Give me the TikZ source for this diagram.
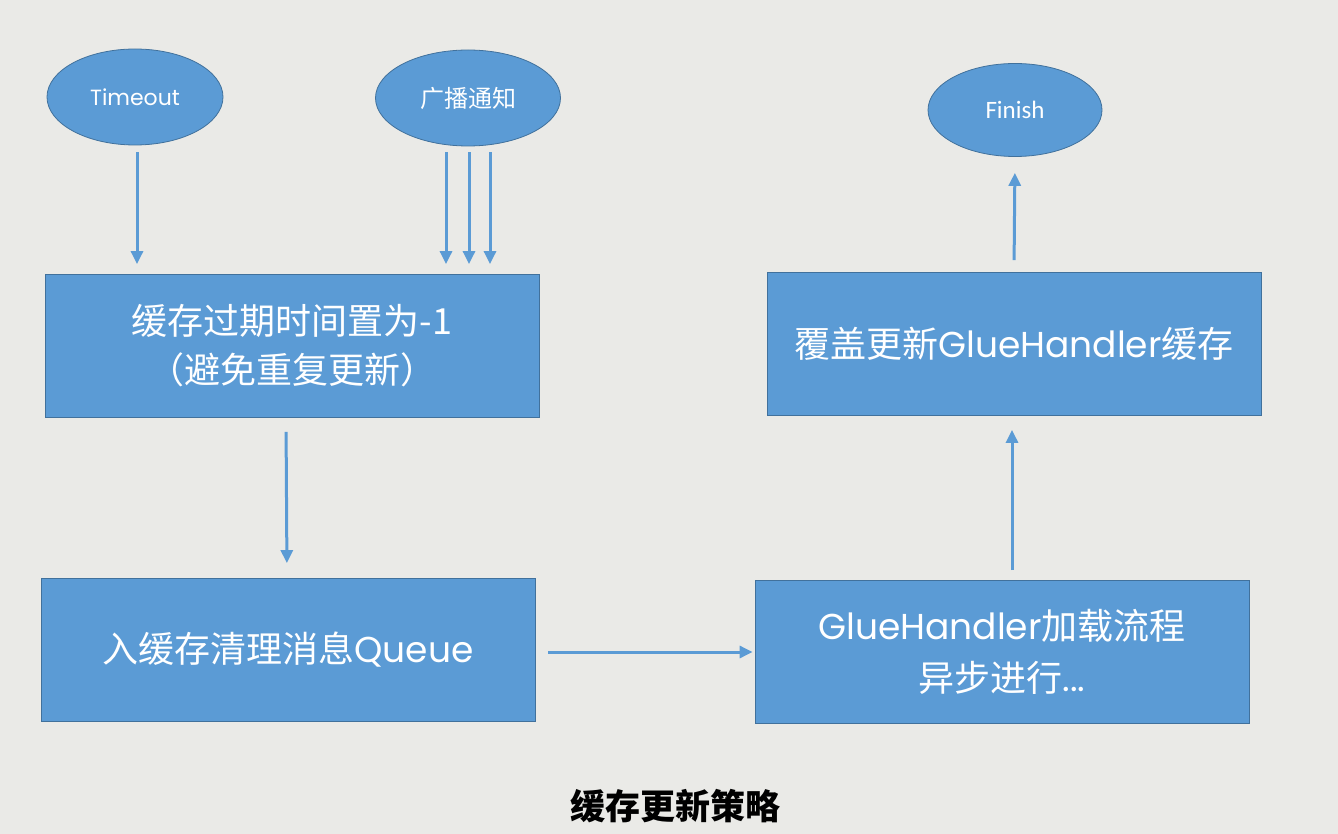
\documentclass[tikz,border=0pt]{standalone}
\usepackage{fontspec}
\setmainfont{Poppins}
\newfontfamily\cjk{Noto Sans CJK SC}
\newfontfamily\carlito{Carlito}
\usetikzlibrary{shapes.geometric, arrows.meta, positioning}
\definecolor{boxblue}{RGB}{91,155,213}
\definecolor{edgeblue}{RGB}{65,113,156}
\definecolor{paper}{RGB}{234,234,231}
\tikzset{
	every node/.style={
		align=center,
	},
	event/.style={ellipse, draw=edgeblue, thick, fill=boxblue, text=white,
		minimum width=176pt, minimum height=96pt, inner sep=0pt,
		font=\fontsize{22}{26}\selectfont},
	task/.style={rectangle, draw=edgeblue, thick, fill=boxblue, text=white,
		minimum width=494pt, minimum height=143pt,
		font=\fontsize{36}{49}\selectfont},
	flow/.style={draw=boxblue, line width=3pt, -{Triangle[length=13pt,width=12pt]}},
}

\begin{document}
\begin{tikzpicture}[x=1pt, y=-1pt]
    \fill [paper] (0,0) rectangle (1338,834);
    \useasboundingbox (0,0) rectangle (1338,834);

    \node (tmo) [event] at (135,97) {Timeout};
    \node (bc) [event, minimum width=185pt, font=\fontsize{24}{28}\selectfont] at (468,98) {\cjk 广播通知};
    \node (fin) [event, minimum width=174pt, minimum height=93pt, font=\fontsize{25}{28}\selectfont] at (1015,110) {\carlito Finish};

    \node (exp) [task] at (292,346) {\cjk 缓存过期时间置为-1\\\cjk （避免重复更新）};
    \node (clr) [task] at (288,650) {{\cjk 入缓存清理消息}Queue};
    \node (load) [task, font=\fontsize{36}{52}\selectfont] at (1002,652) {GlueHandler{\cjk 加载流程}\\{\cjk 异步进行}...};
    \node (upd) [task] at (1014,344) {{\cjk 覆盖更新}GlueHandler{\cjk 缓存}};

    \node (ttl) at (675,806) {\cjk\bfseries\fontsize{35}{40}\selectfont 缓存更新策略};

    % left column
    \draw [flow, shorten <=7pt, shorten >=10pt] ([xshift=2pt]tmo.south) -- ([xshift=2pt]tmo.south |- exp.north);
    \draw [flow, shorten <=6pt, shorten >=10pt] ([xshift=-22pt]bc.south) -- ([xshift=-22pt]bc.south |- exp.north);
    \draw [flow, shorten <=6pt, shorten >=10pt] ([xshift=1pt]bc.south) -- ([xshift=1pt]bc.south |- exp.north);
    \draw [flow, shorten <=6pt, shorten >=10pt] ([xshift=22pt]bc.south) -- ([xshift=22pt]bc.south |- exp.north);
    \draw [flow, shorten <=14pt, shorten >=15pt] ([xshift=-6pt]exp.south) -- ([xshift=-1pt]clr.north);

    % right column
    \draw [flow, shorten <=13pt, shorten >=2pt] ([yshift=-2pt]clr.east) -- (load.west);
    \draw [flow, shorten <=10pt, shorten >=14pt] ([xshift=-2pt]upd.south |- load.north) -- ([xshift=-2pt]upd.south);
    \draw [flow, shorten <=12pt, shorten >=16pt] (upd.north) -- (fin.south);

\end{tikzpicture}
\end{document}
